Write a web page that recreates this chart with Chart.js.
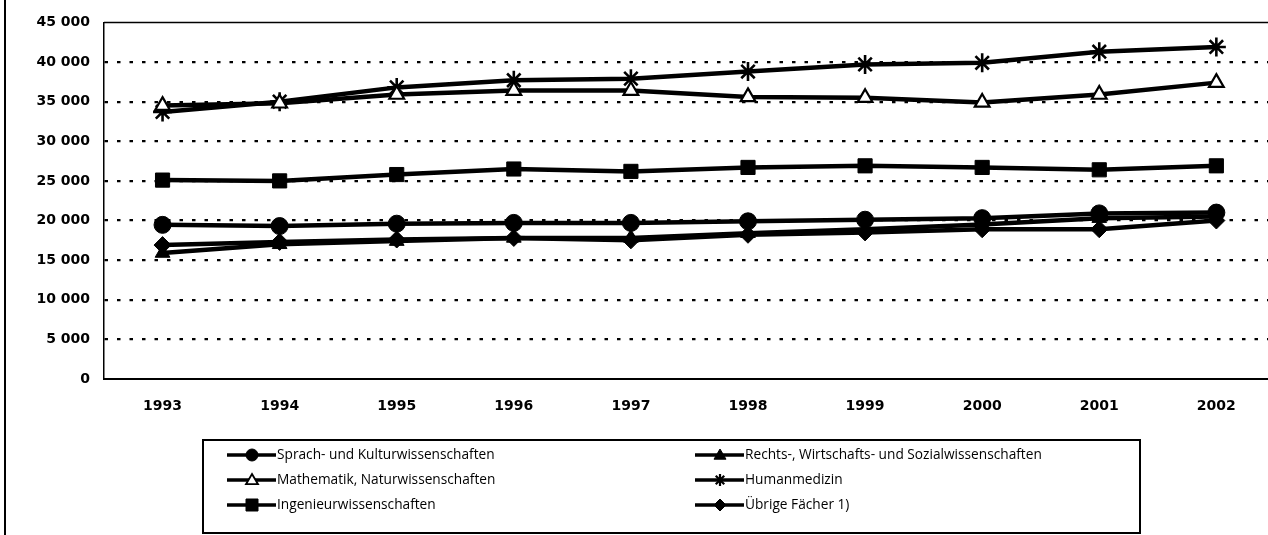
<!DOCTYPE html>
<html>
<head>
<meta charset="utf-8">
<script src="https://cdn.jsdelivr.net/npm/chart.js@4.4.0/dist/chart.umd.min.js"></script>
<style>
  html, body { margin: 0; padding: 0; background: #fff; overflow: hidden; }
  #wrap { width: 1268px; height: 535px; overflow: hidden; }
</style>
</head>
<body>
<div id="wrap"><canvas id="myChart" width="1287" height="535"></canvas></div>
<script>
// Jahre
var jahre = ['1993', '1994', '1995', '1996', '1997', '1998', '1999', '2000', '2001', '2002'];

var sprach = [19450, 19300, 19600, 19700, 19700, 19900, 20100, 20300, 20900, 21000];
var rechts = [15900, 17000, 17400, 17800, 17800, 18400, 18900, 19500, 20300, 20500];
var mathe = [34500, 34800, 35900, 36400, 36400, 35600, 35500, 34900, 35900, 37400];
var human = [33700, 35000, 36800, 37700, 37900, 38800, 39700, 39900, 41300, 41900];
var ingenieur = [25100, 25000, 25800, 26500, 26200, 26700, 26900, 26700, 26400, 26900];
var uebrige = [16900, 17300, 17600, 17800, 17500, 18200, 18500, 18900, 18900, 20000];

var yTicks = [0, 5000, 10000, 15000, 20000, 25000, 30000, 35000, 40000, 45000];

var tickSchrift = '"DejaVu Sans", sans-serif';
var schrift = '"Open Sans", "Noto Sans", sans-serif';

function serie(label, data, style, radius, fill) {
    var bw = 1;
    if (fill === '#fff') bw = 2.2;
    if (style === 'star') bw = 2.6;
    return {
        label: label,
        data: data,
        borderColor: '#000',
        borderWidth: 4.5,
        tension: 0,
        pointStyle: style,
        pointRadius: radius,
        pointHoverRadius: radius,
        pointBackgroundColor: fill,
        pointBorderColor: '#000',
        pointBorderWidth: bw
    };
}

// marker for the legend
function marker(ctx, style, x, y, r, fill) {
    ctx.save();
    ctx.fillStyle = fill;
    ctx.strokeStyle = '#000';
    ctx.lineWidth = fill === '#fff' ? 1.8 : 1;
    ctx.beginPath();
    if (style === 'circle') {
        ctx.arc(x, y, r, 0, Math.PI * 2);
    } else if (style === 'rect') {
        ctx.rect(x - r, y - r, 2 * r, 2 * r);
    } else if (style === 'rectRot') {
        ctx.moveTo(x, y - r); ctx.lineTo(x + r, y); ctx.lineTo(x, y + r); ctx.lineTo(x - r, y);
        ctx.closePath();
    } else if (style === 'triangle') {
        ctx.moveTo(x, y - r); ctx.lineTo(x + r, y + r * 0.7); ctx.lineTo(x - r, y + r * 0.7);
        ctx.closePath();
    } else if (style === 'star') {
        ctx.lineWidth = 2.2;
        for (var i = 0; i < 4; i++) {
            var a = i * Math.PI / 4;
            ctx.moveTo(x - Math.cos(a) * r, y - Math.sin(a) * r);
            ctx.lineTo(x + Math.cos(a) * r, y + Math.sin(a) * r);
        }
        ctx.stroke();
        ctx.restore();
        return;
    }
    ctx.fill();
    ctx.stroke();
    ctx.restore();
}

var rahmen = {
    id: 'rahmen',
    afterDraw: function (chart) {
        var ctx = chart.ctx;
        var a = chart.chartArea;
        ctx.save();
        // linke Linie
        ctx.strokeStyle = '#000';
        ctx.lineWidth = 2;
        ctx.beginPath();
        ctx.moveTo(5, 0);
        ctx.lineTo(5, 535);
        ctx.stroke();
        // obere Linie
        ctx.lineWidth = 1.5;
        ctx.beginPath();
        ctx.moveTo(a.left, a.top);
        ctx.lineTo(a.right, a.top);
        ctx.stroke();
        // Legende
        ctx.lineWidth = 2;
        ctx.strokeRect(203, 440, 937, 93);
        var pos = [[227, 455], [695, 455], [227, 480], [695, 480], [227, 505], [695, 505]];
        ctx.font = '13.7px ' + schrift;
        ctx.textBaseline = 'middle';
        chart.data.datasets.forEach(function (ds, i) {
            var p = pos[i];
            ctx.strokeStyle = '#000';
            ctx.lineWidth = 3.5;
            ctx.beginPath();
            ctx.moveTo(p[0], p[1]);
            ctx.lineTo(p[0] + 49, p[1]);
            ctx.stroke();
            marker(ctx, ds.pointStyle, p[0] + 25, p[1], 6, ds.pointBackgroundColor);
            ctx.fillStyle = '#000';
            ctx.fillText(ds.label, p[0] + 50, p[1]);
        });
        ctx.restore();
    }
};

var ctx = document.getElementById('myChart').getContext('2d');

var chart = new Chart(ctx, {
    type: 'line',
    data: {
        labels: jahre,
        datasets: [
            serie('Sprach- und Kulturwissenschaften', sprach, 'circle', 8.5, '#000'),
            serie('Rechts-, Wirtschafts- und Sozialwissenschaften', rechts, 'triangle', 8.5, '#000'),
            serie('Mathematik, Naturwissenschaften', mathe, 'triangle', 8.5, '#fff'),
            serie('Humanmedizin', human, 'star', 9.5, '#000'),
            serie('Ingenieurwissenschaften', ingenieur, 'rect', 10, '#000'),
            serie('Übrige Fächer 1)', uebrige, 'rectRot', 8.5, '#000')
        ]
    },
    options: {
        responsive: false,
        animation: false,
        layout: { padding: { left: 0, top: 21, right: 0, bottom: 116 } },
        plugins: {
            legend: { display: false },
            tooltip: { enabled: false }
        },
        scales: {
            x: {
                offset: true,
                grid: { display: false, drawTicks: false },
                border: { display: true, color: '#000', width: 2 },
                ticks: { color: '#000', padding: 19, font: { family: tickSchrift, size: 14, weight: 'bold' } },
                afterFit: function (s) { s.height = 40; }
            },
            y: {
                min: 0,
                max: 45000,
                afterBuildTicks: function (s) { s.ticks = yTicks.map(function (v) { return { value: v }; }); },
                grid: {
                    drawTicks: false,
                    color: '#000',
                    lineWidth: function (c) { return (c.tick && (c.tick.value === 0 || c.tick.value === 45000)) ? 0 : 2.2; }
                },
                border: { display: true, color: '#000', width: 1.5, dash: [3.5, 9] },
                ticks: {
                    color: '#000',
                    padding: 14,
                    font: { family: tickSchrift, size: 14, weight: 'bold' },
                    callback: function (v) { return v === 0 ? '0' : String(v).replace(/\B(?=(\d{3})+(?!\d))/g, ' '); }
                },
                afterFit: function (s) { s.width = 104; }
            }
        }
    },
    plugins: [rahmen]
});
</script>
</body>
</html>
